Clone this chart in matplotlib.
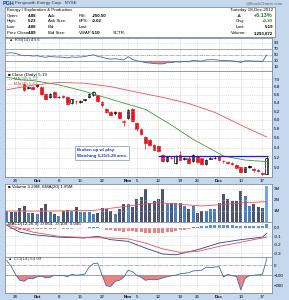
import matplotlib
matplotlib.use("Agg")
import matplotlib.pyplot as plt
import numpy as np
import pandas as pd
from matplotlib.ticker import NullLocator

W, H = 289, 300

# ---------------------------------------------------------------------------
# data
# ---------------------------------------------------------------------------
dates = pd.bdate_range("2012-09-20", "2012-12-18")
dates = dates.drop(pd.to_datetime(["2012-10-29", "2012-10-30", "2012-11-22"]))

opens = [7.40, 7.38, 7.35, 7.32, 6.86, 6.77, 6.79, 6.85, 6.80, 6.62, 6.53, 6.66, 6.55, 6.56,
         6.54, 6.40, 6.44, 6.42, 6.47, 6.54, 6.58, 6.58, 6.42, 6.24, 6.19, 6.17, 6.17, 5.94,
         6.05, 6.25, 5.92, 5.80, 5.62, 5.56, 5.46, 5.43, 5.25, 5.14, 5.19, 5.09, 5.25, 5.18,
         5.20, 5.13, 5.23, 5.19, 5.08, 5.18, 5.20, 5.22, 5.14, 5.11, 5.09, 5.06, 5.01, 4.93,
         5.04, 4.97, 4.96, 4.91, 4.88]
highs = [7.45, 7.42, 7.38, 7.36, 6.90, 6.82, 6.81, 6.88, 6.83, 6.64, 6.63, 6.68, 6.57, 6.58,
         6.56, 6.50, 6.47, 6.46, 6.50, 6.63, 6.68, 6.60, 6.45, 6.27, 6.21, 6.20, 6.19, 6.00,
         6.25, 6.27, 5.94, 5.82, 5.64, 5.58, 5.48, 5.45, 5.27, 5.23, 5.22, 5.24, 5.32, 5.21,
         5.22, 5.27, 5.25, 5.20, 5.17, 5.21, 5.22, 5.24, 5.16, 5.14, 5.11, 5.08, 5.02, 5.02,
         5.05, 4.99, 4.98, 4.93, 5.23]
lows = [7.33, 7.30, 7.26, 7.25, 6.70, 6.75, 6.71, 6.80, 6.60, 6.48, 6.51, 6.52, 6.52, 6.52,
        6.36, 6.38, 6.38, 6.40, 6.45, 6.52, 6.56, 6.42, 6.30, 6.15, 6.10, 6.12, 6.03, 5.86,
        6.02, 5.96, 5.76, 5.66, 5.38, 5.44, 5.34, 5.31, 5.12, 5.12, 5.17, 5.08, 5.14, 5.16,
        5.08, 5.12, 5.10, 5.06, 5.06, 5.17, 5.17, 5.13, 5.10, 5.07, 5.05, 4.98, 4.90, 4.92,
        4.99, 4.93, 4.92, 4.87, 4.88]
closes = [7.38, 7.35, 7.30, 7.26, 6.71, 6.80, 6.73, 6.83, 6.62, 6.50, 6.61, 6.54, 6.54, 6.53,
          6.37, 6.48, 6.43, 6.44, 6.48, 6.62, 6.66, 6.43, 6.35, 6.17, 6.12, 6.16, 6.05, 5.98,
          6.23, 5.98, 5.80, 5.68, 5.50, 5.46, 5.36, 5.33, 5.14, 5.21, 5.20, 5.23, 5.16, 5.19,
          5.10, 5.25, 5.12, 5.08, 5.16, 5.19, 5.19, 5.15, 5.13, 5.10, 5.08, 5.00, 4.92, 5.01,
          5.02, 4.96, 4.95, 4.89, 5.19]

ma20_idx = [0, 3, 6, 12, 18, 22, 28, 32, 38, 43, 50, 55, 60]
ma20_val = [7.05, 6.98, 6.96, 6.85, 6.68, 6.55, 6.36, 6.24, 5.88, 5.57, 5.23, 5.15, 5.12]
ma50_idx = [0, 6, 12, 18, 24, 30, 36, 42, 48, 54, 60]
ma50_val = [6.72, 6.84, 6.91, 6.89, 6.80, 6.66, 6.53, 6.38, 6.17, 5.88, 5.62]

support_level = 5.22
support_start = 35

volume = [1.00, 0.93, 0.93, 1.26, 1.42, 0.83, 0.83, 0.70, 1.26, 1.59, 0.93, 0.77, 0.54,
          1.03, 1.09, 1.03, 1.36, 0.93, 0.93, 0.93, 0.77, 0.83, 1.26, 1.16, 1.03, 0.77,
          1.16, 1.59, 1.59, 1.36, 2.07, 2.24, 2.99, 1.75, 1.91, 2.07, 2.99, 1.59, 1.75,
          1.75, 1.75, 1.49, 1.16, 1.42, 0.83, 1.03, 1.03, 1.19, 1.19, 1.75, 2.56, 2.07,
          1.91, 1.91, 2.79, 2.40, 1.49, 1.59, 1.36, 1.26, 3.29]
vol_ema_idx = [0, 10, 20, 25, 30, 35, 40, 45, 50, 55, 60]
vol_ema_val = [1.00, 1.00, 1.05, 1.30, 1.55, 1.75, 1.60, 1.45, 1.60, 1.75, 1.85]

rsi = [56, 57, 55, 50, 47, 48, 46, 47, 44, 42, 45, 43, 43, 42, 40, 43, 42, 43, 44, 48, 50,
       45, 42, 38, 36, 37, 35, 33, 44, 35, 30, 28, 24, 23, 21, 20, 20, 24, 24, 27, 26, 28,
       27, 32, 30, 29, 33, 34, 34, 32, 31, 31, 30, 28, 25, 30, 30, 29, 29, 28, 49.6]

macd_idx = [0, 3, 6, 12, 18, 21, 24, 28, 32, 36, 39, 44, 49, 54, 59, 60]
macd_val = [0.03, -0.05, -0.08, -0.11, -0.12, -0.10, -0.14, -0.16, -0.24, -0.31, -0.32,
            -0.26, -0.18, -0.14, -0.11, -0.064]
signal_idx = [0, 6, 12, 18, 24, 28, 32, 36, 40, 44, 49, 54, 60]
signal_val = [0.04, -0.05, -0.10, -0.115, -0.12, -0.13, -0.18, -0.25, -0.29, -0.28, -0.22,
              -0.17, -0.109]
macd_hist = [-0.005, -0.01, -0.015, -0.02, -0.02, -0.02, -0.015, -0.012, -0.01, -0.012,
             -0.01, -0.008, -0.006, -0.008, -0.01, -0.008, -0.006, -0.004, -0.002, 0.005,
             0.012, 0.01, -0.005, -0.02, -0.03, -0.035, -0.04, -0.045, -0.035, -0.04, -0.045,
             -0.05, -0.055, -0.058, -0.06, -0.06, -0.058, -0.05, -0.045, -0.038, -0.03, -0.02,
             -0.008, 0.005, 0.015, 0.02, 0.025, 0.03, 0.032, 0.035, 0.035, 0.033, 0.032, 0.028,
             0.022, 0.02, 0.02, 0.018, 0.018, 0.02, 0.045]

cci = [45, -10, -90, -150, -160, -130, -135, -115, -110, -125, -120, -100, -105, -100,
       -115, -90, -100, -95, -90, -20, 15, 20, -100, -205, -210, -160, -150, -120, -50, -65,
       -100, -120, -150, -140, -145, -140, -125, -115, -105, -100, -85, -80, -75, -57, -55,
       -50, -20, -25, -20, -15, -117, -90, -105, -110, -245, -130, -105, -100, -95, -90, 64]

tick_dates = ["2012-09-24", "2012-10-01", "2012-10-08", "2012-10-15", "2012-10-22",
              "2012-11-01", "2012-11-05", "2012-11-12", "2012-11-19", "2012-11-26",
              "2012-12-03", "2012-12-10", "2012-12-17"]
tick_text = ["24", "Oct", "8", "15", "22", "Nov", "5", "12", "19", "26", "Dec", "10", "17"]

# ---------------------------------------------------------------------------
# helpers
# ---------------------------------------------------------------------------
FS = 3.2
BG = "#c6d8ee"
GRID = dict(color="#c4c4c4", ls=":", lw=0.5)
x = np.arange(len(dates))
pos = {d: i for i, d in enumerate(dates)}
tick_pos = [pos[pd.Timestamp(d)] for d in tick_dates]


def rect(x0, y0, x1, y1):
    return [x0 / W, 1 - y1 / H, (x1 - x0) / W, (y1 - y0) / H]


def panel(fig, y0, y1, xlabels=False):
    ax = fig.add_axes(rect(5, y0, 272, y1))
    ax.set_xlim(-0.4, 61.2)
    ax.set_xticks(tick_pos)
    if xlabels:
        ax.set_xticklabels(tick_text)
        for lab in ax.get_xticklabels():
            if not lab.get_text().isdigit():
                lab.set_fontweight("bold")
    else:
        ax.set_xticklabels([])
    ax.yaxis.tick_right()
    ax.tick_params(axis="both", length=0, labelsize=FS, pad=1.2)
    ax.grid(True, **GRID)
    for s in ax.spines.values():
        s.set_color("#7d8ca3")
        s.set_linewidth(0.6)
    return ax


plt.rcParams["font.family"] = ["Liberation Sans", "DejaVu Sans"]
fig = plt.figure(figsize=(W / 100, H / 100), dpi=100)
fig.patch.set_facecolor(BG)

# header
fig.text(2.5 / W, 1 - 3.4 / H, "PGH", fontsize=3.9, fontweight="bold", color="#1f3f7f", va="center")
fig.text(15 / W, 1 - 3.4 / H, "Pengrowth Energy Corp.  NYSE", fontsize=FS, color="#333333", va="center")
fig.text(283 / W, 1 - 3.4 / H, "@StockCharts.com", fontsize=FS, color="#666666", va="center", ha="right")

# info box
info = fig.add_axes(rect(5, 6.7, 275, 37.3))
info.set_xticks([]); info.set_yticks([])
info.set_xlim(0, 270); info.set_ylim(30.6, 0)
for s in info.spines.values():
    s.set_color("#7d8ca3"); s.set_linewidth(0.6)
rows = [3.3, 9.0, 14.3, 20.0, 26.4]
info.text(2, rows[0], "Energy / Exploration & Production", fontsize=FS, va="center")
info.text(268, rows[0], "Tuesday 18-Dec-2012", fontsize=FS, va="center", ha="right")
left_cells = [("Open:", "4.88"), ("High:", "5.23"), ("Low:", "4.88"), ("Prev Close:", "4.89")]
mid_cells = ["Ask:", "Ask Size:", "Bid:", "Bid Size:"]
right_cells = [("P/E:", "-250.50"), ("EPS:", "-0.02"), ("Last:", ""), ("VWAP:", "5.10")]
for r, (lab, val), mid, (rl, rv) in zip(rows[1:], left_cells, mid_cells, right_cells):
    info.text(2, r, lab, fontsize=FS, va="center")
    info.text(23, r, val, fontsize=FS, va="center", fontweight="bold")
    info.text(43, r, mid, fontsize=FS, va="center")
    info.text(74, r, rl, fontsize=FS, va="center")
    info.text(86.5, r, rv, fontsize=FS, va="center", fontweight="bold")
info.text(108, rows[4], "SCTR:", fontsize=FS, va="center")
info.text(231, rows[1], "\u25b2", fontsize=4.5, va="center", color="#2e7d32")
info.text(268, rows[1], "+6.13%", fontsize=4, va="center", ha="right", color="#2e7d32", fontweight="bold")
info.text(231, rows[2], "Chg:", fontsize=FS, va="center")
info.text(268, rows[2], "+0.30", fontsize=FS, va="center", ha="right", color="#2e7d32", fontweight="bold")
info.text(231, rows[3], "Last:", fontsize=FS, va="center")
info.text(268, rows[3], "5.19", fontsize=FS, va="center", ha="right", fontweight="bold")
info.text(226, rows[4], "Volume:", fontsize=FS, va="center")
info.text(268, rows[4], "3,293,872", fontsize=FS, va="center", ha="right", fontweight="bold")

# RSI
ax = panel(fig, 38, 70.5)
ax.set_ylim(-2, 106)
ax.set_yticks([10, 30, 50, 70, 90])
ax.axhline(70, color="#888888", lw=0.5)
ax.axhline(30, color="#888888", lw=0.5)
ax.axhline(50, color="#888888", lw=0.4, ls="-.")
ax.plot(x, rsi, color="#4169a8", lw=0.6)
r = np.array(rsi, float)
ax.fill_between(x, r, 30, where=r < 30, interpolate=True, color="#f08080", lw=0)
ax.fill_between(x, r, 70, where=r > 70, interpolate=True, color="#8fbc8f", lw=0)
ax.text(0.5, 100, "\u25b2 RSI(14) 49.6", fontsize=FS, va="center", color="#333333")

# Price
ax = panel(fig, 70.5, 177, xlabels=True)
ax.set_yscale("log")
ax.set_ylim(4.83, 7.23)
pticks = [5.0, 5.2, 5.4, 5.6, 5.8, 6.0, 6.2, 6.4, 6.6, 6.8, 7.0]
ax.set_yticks(pticks)
ax.set_yticklabels([f"{t:.1f}" for t in pticks])
ax.yaxis.set_minor_locator(NullLocator())
o, h, l, c = map(np.array, (opens, highs, lows, closes))
prev = np.r_[c[0], c[:-1]]
col = np.where(c < prev, "#e8141c", "black")
ax.vlines(x, l, h, colors=col, lw=0.5)
lo = np.minimum(o, c)
hi = np.maximum(o, c)
face = np.where(c > o, "white", col)
ax.bar(x, np.maximum(hi - lo, 0.004), bottom=lo, width=0.62, color=face, edgecolor=col, linewidth=0.5)
ax.plot(ma20_idx, ma20_val, color="#3c9a3c", lw=0.6)
ax.plot(ma50_idx, ma50_val, color="#f05050", lw=0.6)
ax.hlines(support_level, support_start, 60.3, color="#1a1ae6", lw=0.9)
ax.text(16.2, 5.285, "Broken up w/ play.\nWatching 5.21/5.28 area.", fontsize=FS, color="#1a3ad0",
        fontweight="bold", va="center", linespacing=1.5,
        bbox=dict(boxstyle="square,pad=0.5", fc="white", ec="#8090c0", lw=0.5))
ax.text(0.4, 7.12, "\u25a0 Close (Daily) 5.19", fontsize=FS, va="center")
ax.text(0.4, 7.0, "\u2014 MA(20) 5.12", fontsize=FS, va="center", color="#3c9a3c")
ax.text(0.4, 6.88, "\u2014 MA(50) 5.62", fontsize=FS, va="center", color="#f05050")

# Volume
ax = panel(fig, 184, 222)
ax.set_ylim(0, 3.45)
ax.set_yticks([1, 2, 3])
ax.set_yticklabels(["1M", "2M", "3M"])
vcol = np.where(c >= prev, "#4a7ebb", "#4b5470")
vcol[-1] = "#6fa8dc"
ax.bar(x, volume, width=0.7, color=vcol, lw=0)
ax.plot(vol_ema_idx, vol_ema_val, color="#f05050", lw=0.6)
ax.text(0.4, 3.2, "\u25a0 Volume 3.29M, EMA(20) 1.85M", fontsize=FS, va="center")

# MACD
ax = panel(fig, 222, 256.5)
ax.set_ylim(-0.34, 0.07)
ax.set_yticks([-0.3, -0.2, -0.1, 0.0])
ax.set_yticklabels(["-0.3", "-0.2", "-0.1", "0.0"])
hist = np.array(macd_hist)
ax.bar(x, hist, width=0.7, color=np.where(hist >= 0, "#5b8fd6", "#f08080"), lw=0)
ax.plot(macd_idx, macd_val, color="#2b3f8f", lw=0.6)
ax.plot(signal_idx, signal_val, color="#f05050", lw=0.6)
ax.text(0.4, 0.05, "MACD(12,26,9) -0.064, -0.109, 0.045", fontsize=FS, va="center")

# CCI
ax = panel(fig, 256.5, 293, xlabels=True)
ax.set_ylim(-275, 85)
ax.set_yticks([-200, -100, 0])
ax.axhline(0, color="#888888", lw=0.4, ls="-.")
ax.axhline(-100, color="#888888", lw=0.5)
cc = np.array(cci, float)
ax.fill_between(x, cc, -100, where=cc < -100, interpolate=True, color="#f08080", lw=0)
ax.plot(x, cc, color="#4169a8", lw=0.6)
ax.text(0.4, 65, "\u25b2 CCI(14) 64.09", fontsize=FS, va="center", color="#333333")

fig.savefig("out.png", dpi=100, facecolor=BG)
